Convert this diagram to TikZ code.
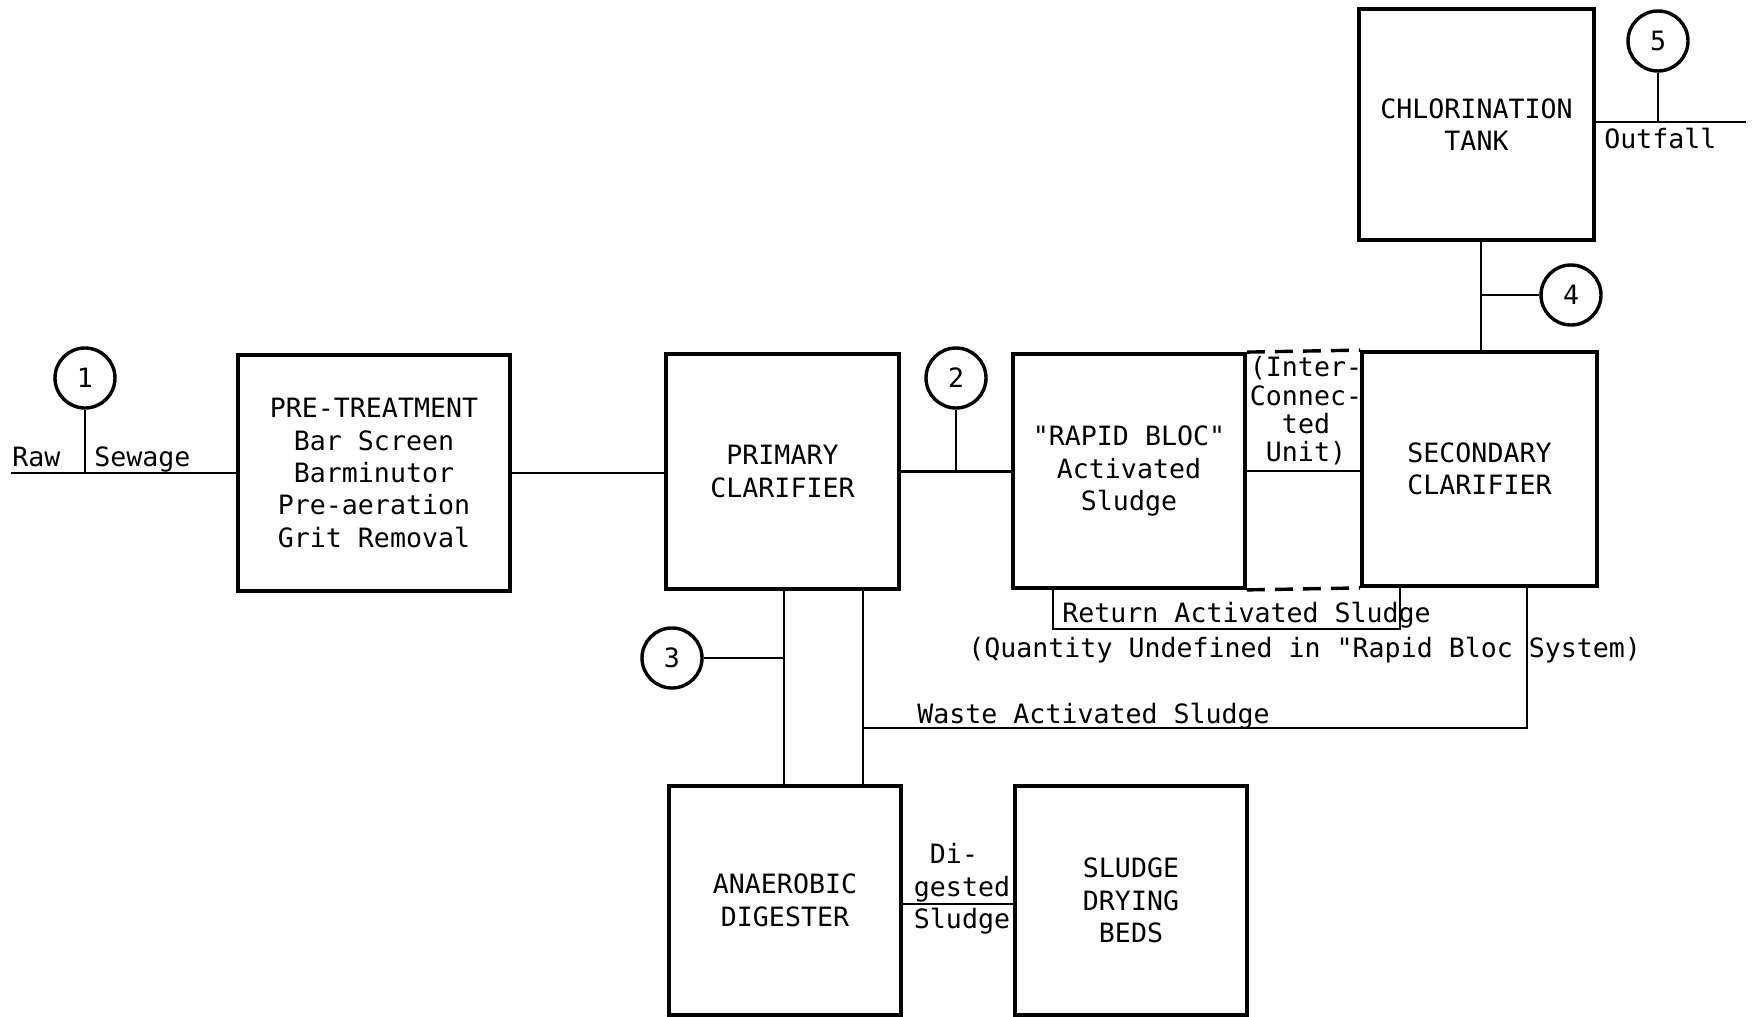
\documentclass[tikz,border=0pt]{standalone}
\usepackage{fontspec}
\newfontfamily\tw{DejaVu Sans Mono}
\begin{document}
\begin{tikzpicture}[x=0.5pt,y=-0.5pt,
  font=\tw\fontsize{13.3}{16.2}\selectfont,
  unit/.style={draw, line width=1.9pt, inner sep=0pt, align=center},
  pipe/.style={line width=1.2pt},
  tag/.style={draw, circle, line width=1.7pt, minimum size=30pt, inner sep=0pt},
  lbl/.style={inner sep=0pt, align=center}]
\fill[white] (0,0) rectangle (1753,1017);
\useasboundingbox (0,0) rectangle (1753,1017);

% units
\node[unit, minimum width=136pt, minimum height=118pt] (pre) at (374,473)
  {PRE-TREATMENT\\Bar Screen\\Barminutor\\Pre-aeration\\Grit Removal};
\node[unit, minimum width=116.5pt, minimum height=117.5pt] (prim) at (782.5,471.5)
  {PRIMARY\\CLARIFIER};
\node[unit, minimum width=116pt, minimum height=117pt] (rapid) at (1129,471)
  {"RAPID BLOC"\\Activated\\Sludge};
\node[unit, minimum width=117.5pt, minimum height=117pt] (sec) at (1479.5,469)
  {SECONDARY\\CLARIFIER};
\node[unit, minimum width=117.5pt, minimum height=115.5pt] (chl) at (1476.5,124.5)
  {CHLORINATION\\TANK};
\node[unit, minimum width=116pt, minimum height=114.5pt] (dig) at (785,900.5)
  {ANAEROBIC\\DIGESTER};
\node[unit, minimum width=116pt, minimum height=114.5pt] (beds) at (1131,900.5)
  {SLUDGE\\DRYING\\BEDS};

% sampling points
\node[tag] (c1) at (85,378) {1};
\node[tag] (c2) at (956,378) {2};
\node[tag] (c3) at (672,658) {3};
\node[tag] (c4) at (1571,295) {4};
\node[tag] (c5) at (1658,41) {5};

% helper coordinates
\coordinate (rawend) at (11,473);
\coordinate (outend) at (1746,122);
\coordinate (p4) at (1481,295);
\coordinate (pl) at (784,658);
\coordinate (pr) at (863,728);
\coordinate (wa) at (1527,728);
\coordinate (ra) at (1053,629);
\coordinate (rb) at (1400,629);
\coordinate (dl) at (0,904);

% main line
\draw[pipe] (rawend) -- (pre.west);
\draw[pipe] (c1) -- (c1 |- pre.west);
\draw[pipe] (pre.east) -- (pre.east -| prim.west);
\draw[pipe] (prim.east) -- (prim.east -| rapid.west);
\draw[pipe] (c2) -- (c2 |- prim.east);
\draw[pipe] (rapid.east) -- (rapid.east -| sec.west);
\draw[line width=1.7pt, dash pattern=on 9pt off 5pt] (rapid.north east) -- (sec.north west);
\draw[line width=1.7pt, dash pattern=on 9pt off 5pt] (rapid.south east) -- (sec.south west);

% to chlorination and outfall
\draw[pipe] (chl.south -| p4) -- (sec.north -| p4);
\draw[pipe] (p4) -- (c4);
\draw[pipe] (chl.east |- outend) -- (outend);
\draw[pipe] (c5) -- (c5 |- outend);

% sludge lines
\draw[pipe] (prim.south -| pl) -- (dig.north -| pl);
\draw[pipe] (prim.south -| pr) -- (dig.north -| pr);
\draw[pipe] (c3) -- (pl);
\draw[pipe] (sec.south -| wa) -- (wa) -- (pr);
\draw[pipe] (rapid.south -| ra) -- (ra) -- (rb) -- (rb |- sec.south);
\draw[pipe] (dig.east |- dl) -- (beds.west |- dl);

% labels
\node[lbl, anchor=base west] (lraw) at (12,466) {Raw};
\node[lbl, anchor=base west] (lsew) at (94,466) {Sewage};
\node[lbl, anchor=base west] (lout) at (1604,148) {Outfall};
\node[lbl, font=\tw\fontsize{13.3}{14.2}\selectfont] (lic) at (1306,411) {(Inter-\\Connec-\\ted\\Unit)};
\node[lbl, anchor=base west] (lret) at (1062,622) {Return Activated Sludge};
\node[lbl, anchor=base west] (lqty) at (968,657) {(Quantity Undefined in "Rapid Bloc System)};
\node[lbl, anchor=base west] (lwas) at (917,723) {Waste Activated Sludge};
\node[lbl] (ldig) at (962,889) {Di-\hphantom{x}\\gested\\Sludge};
\end{tikzpicture}
\end{document}
